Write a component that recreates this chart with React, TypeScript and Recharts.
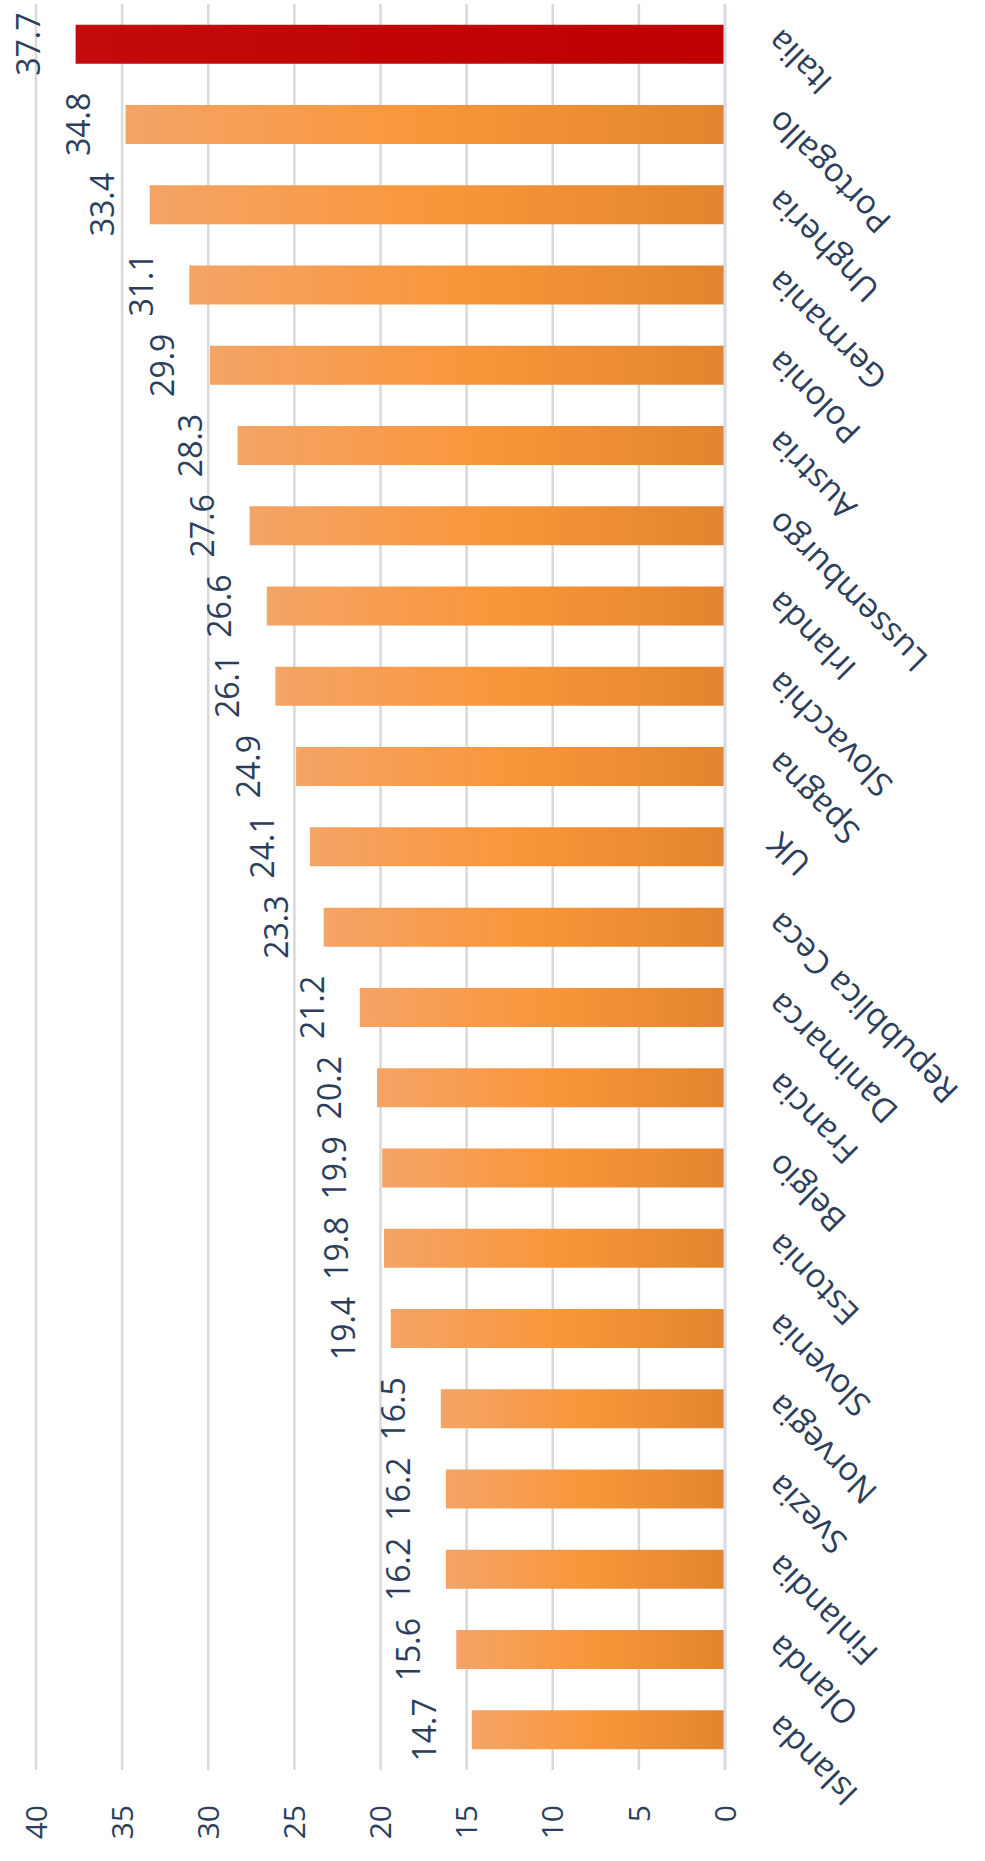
import { BarChart, Bar, XAxis, YAxis, CartesianGrid, Cell, LabelList } from 'recharts'

const countries = [
  'Islanda', 'Olanda', 'Finlandia', 'Svezia', 'Norvegia', 'Slovenia', 'Estonia', 'Belgio',
  'Francia', 'Danimarca', 'Repubblica Ceca', 'UK', 'Spagna', 'Slovacchia', 'Irlanda',
  'Lussemburgo', 'Austria', 'Polonia', 'Germania', 'Ungheria', 'Portogallo', 'Italia',
]
const values = [
  14.7, 15.6, 16.2, 16.2, 16.5, 19.4, 19.8, 19.9, 20.2, 21.2, 23.3, 24.1, 24.9, 26.1, 26.6,
  27.6, 28.3, 29.9, 31.1, 33.4, 34.8, 37.7,
]
const highlight = 'Italia'
const valueTicks = [0, 5, 10, 15, 20, 25, 30, 35, 40]

const data = countries.map((name, i) => ({ name, value: values[i] }))

const TEXT = '#2c3e5b'
const FONT = '"Open Sans", sans-serif'

// drawn as an ordinary column chart, then turned a quarter turn to the left
export default function App() {
  return (
    <div style={{ position: 'absolute', left: 0, top: 0, width: 985, height: 1861, overflow: 'hidden', background: '#fff' }}>
      <div
        style={{
          width: 1861,
          height: 985,
          transformOrigin: '0 0',
          transform: 'translateY(1861px) rotate(-90deg)',
          fontFamily: FONT,
        }}
      >
        <BarChart
          width={1861}
          height={985}
          data={data}
          margin={{ top: 36, right: 4, bottom: 0, left: 0 }}
          barCategoryGap="25.7%"
        >
          <defs>
            <linearGradient id="orangeGrad" x1="0" y1="0" x2="0" y2="1">
              <stop offset="0%" stopColor="#f4a466" />
              <stop offset="50%" stopColor="#f9963a" />
              <stop offset="100%" stopColor="#e3852e" />
            </linearGradient>
            <linearGradient id="redGrad" x1="0" y1="0" x2="0" y2="1">
              <stop offset="0%" stopColor="#c40a0a" />
              <stop offset="100%" stopColor="#bd0000" />
            </linearGradient>
          </defs>
          <CartesianGrid vertical={false} stroke="#d9d9d9" strokeWidth={2.5} />
          <XAxis
            dataKey="name"
            interval={0}
            height={260}
            angle={-45}
            textAnchor="end"
            tickLine={false}
            tickSize={0}
            tickMargin={40}
            axisLine={{ stroke: '#d6dce5', strokeWidth: 3 }}
            tick={{ fontSize: 33, fill: TEXT, fontFamily: FONT }}
          />
          <YAxis
            width={91}
            domain={[0, 40]}
            ticks={valueTicks}
            interval={0}
            axisLine={false}
            tickLine={false}
            tickSize={0}
            tickMargin={35}
            tick={{ fontSize: 30, fill: TEXT, fontFamily: FONT }}
          />
          <Bar dataKey="value" isAnimationActive={false}>
            {data.map((d) => (
              <Cell key={d.name} fill={d.name === highlight ? 'url(#redGrad)' : 'url(#orangeGrad)'} />
            ))}
            <LabelList
              dataKey="value"
              position="top"
              offset={36}
              fill={TEXT}
              fontSize={32}
              fontFamily={FONT}
              formatter={(v: number) => v.toFixed(1)}
            />
          </Bar>
        </BarChart>
      </div>
    </div>
  )
}
